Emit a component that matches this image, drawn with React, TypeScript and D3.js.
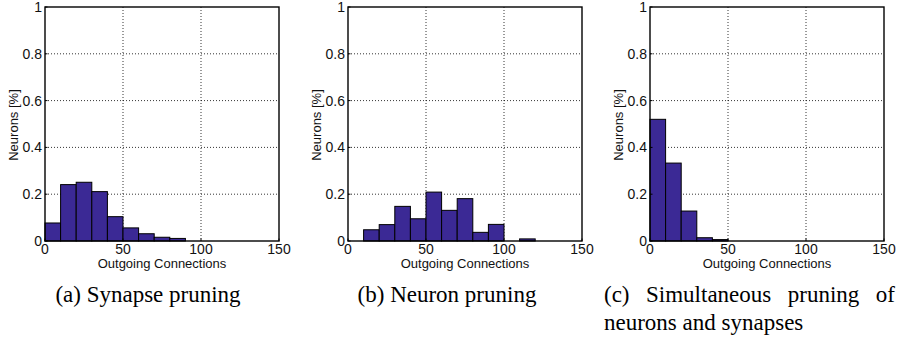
import React, { useEffect, useRef } from "react";
import * as d3 from "d3";

// histogram bins (left edges, width 10)
const binStarts = [0, 10, 20, 30, 40, 50, 60, 70, 80, 90, 100, 110, 120, 130, 140];
const binWidth = 10;

// fraction of neurons per bin
const synapseValues = [0.077, 0.241, 0.251, 0.211, 0.104, 0.056, 0.031, 0.016, 0.011, 0, 0, 0, 0, 0, 0];
const neuronValues = [0, 0.048, 0.07, 0.148, 0.095, 0.209, 0.131, 0.181, 0.037, 0.071, 0, 0.009, 0, 0, 0];
const simultaneousValues = [0.52, 0.333, 0.128, 0.014, 0.006, 0, 0, 0, 0, 0, 0, 0, 0, 0, 0];

const xTicks = [0, 50, 100, 150];
const yTicks = [0, 0.2, 0.4, 0.6, 0.8, 1];
const yTickLabels = ["0", "0.2", "0.4", "0.6", "0.8", "1"];

const xLabel = "Outgoing Connections";
const yLabel = "Neurons [%]";

const captionA = "(a) Synapse pruning";
const captionB = "(b) Neuron pruning";
const captionCLine1 = ["(c)", "Simultaneous", "pruning", "of"];
const captionCLine2 = "neurons and synapses";

function App() {
  const svgRef = useRef(null);

  useEffect(() => {
    drawChart();
  }, []);

  const drawChart = () => {
    const svg = d3.select(svgRef.current);
    svg.selectAll("*").remove();

    const sans = "Liberation Sans, Arial, Helvetica, sans-serif";
    const serif = "Liberation Serif, Times New Roman, Times, serif";
    const top = 7, bottom = 241, size = 234;
    const barColor = "#3b2995";

    const panels = [
      { left: 45, values: synapseValues },
      { left: 348, values: neuronValues },
      { left: 650, values: simultaneousValues }
    ];

    panels.forEach(p => {
      const x = d3.scaleLinear().domain([0, 150]).range([p.left, p.left + size]);
      const y = d3.scaleLinear().domain([0, 1]).range([bottom, top]);
      const g = svg.append("g");

      // white plot area
      g.append("rect")
        .attr("x", p.left).attr("y", top)
        .attr("width", size).attr("height", size)
        .attr("fill", "#fff");

      // dotted grid
      g.selectAll(".gx")
        .data(xTicks.slice(1, -1))
        .enter().append("line")
        .attr("x1", d => x(d)).attr("x2", d => x(d))
        .attr("y1", top).attr("y2", bottom)
        .attr("stroke", "#000").attr("stroke-width", 0.8)
        .attr("stroke-dasharray", "1,2");

      g.selectAll(".gy")
        .data(yTicks.slice(1, -1))
        .enter().append("line")
        .attr("x1", p.left).attr("x2", p.left + size)
        .attr("y1", d => y(d)).attr("y2", d => y(d))
        .attr("stroke", "#000").attr("stroke-width", 0.8)
        .attr("stroke-dasharray", "1,2");

      // bars
      g.selectAll(".bar")
        .data(binStarts.map((b, i) => ({ b, v: p.values[i] })))
        .enter().append("rect")
        .attr("x", d => x(d.b))
        .attr("width", d => x(d.b + binWidth) - x(d.b))
        .attr("y", d => y(d.v))
        .attr("height", d => y(0) - y(d.v))
        .attr("fill", barColor)
        .attr("stroke", "#000")
        .attr("stroke-width", 1);

      // inward ticks
      g.selectAll(".tx")
        .data(xTicks)
        .enter().append("line")
        .attr("x1", d => x(d)).attr("x2", d => x(d))
        .attr("y1", bottom).attr("y2", bottom - 2.5)
        .attr("stroke", "#000");
      g.selectAll(".ty")
        .data(yTicks)
        .enter().append("line")
        .attr("x1", p.left).attr("x2", p.left + 2.5)
        .attr("y1", d => y(d)).attr("y2", d => y(d))
        .attr("stroke", "#000");

      // frame
      g.append("rect")
        .attr("x", p.left).attr("y", top)
        .attr("width", size).attr("height", size)
        .attr("fill", "none")
        .attr("stroke", "#000")
        .attr("stroke-width", 1.4);

      // tick labels
      g.selectAll(".lx")
        .data(xTicks)
        .enter().append("text")
        .attr("x", d => x(d))
        .attr("y", bottom + 13)
        .attr("text-anchor", "middle")
        .style("font-family", sans)
        .style("font-size", "14px")
        .attr("fill", "#111")
        .text(d => d);

      g.selectAll(".ly")
        .data(yTicks)
        .enter().append("text")
        .attr("x", p.left - 3)
        .attr("y", d => y(d) + 5)
        .attr("text-anchor", "end")
        .style("font-family", sans)
        .style("font-size", "14px")
        .attr("fill", "#111")
        .text((d, i) => yTickLabels[i]);

      // axis labels
      g.append("text")
        .attr("x", p.left + size / 2)
        .attr("y", 267.5)
        .attr("text-anchor", "middle")
        .style("font-family", sans)
        .style("font-size", "13px")
        .attr("fill", "#111")
        .text(xLabel);

      g.append("text")
        .attr("transform", `translate(${p.left - 27},${y(0.5) + 1}) rotate(-90)`)
        .attr("text-anchor", "middle")
        .style("font-family", sans)
        .style("font-size", "13px")
        .attr("fill", "#111")
        .text(yLabel);
    });

    // captions
    const cap = (t, xPos, yPos, anchor) =>
      svg.append("text")
        .attr("x", xPos).attr("y", yPos)
        .attr("text-anchor", anchor)
        .style("font-family", serif)
        .style("font-size", "23px")
        .attr("fill", "#000")
        .text(t);

    cap(captionA, 148, 302, "middle");
    cap(captionB, 447, 302, "middle");

    // justified first line of (c)
    const lineLeft = 604, lineRight = 895;
    const words = captionCLine1.map(w => cap(w, 0, 302, "start"));
    const widths = words.map(w => (w.node() as SVGTextElement).getComputedTextLength());
    const gap = (lineRight - lineLeft - d3.sum(widths)) / (words.length - 1);
    let cx = lineLeft;
    words.forEach((w, i) => {
      w.attr("x", cx);
      cx += widths[i] + gap;
    });
    cap(captionCLine2, lineLeft, 330, "start");
  };

  return (
    <div style={{ margin: 0 }}>
      <svg ref={svgRef} width={901} height={341}
        style={{ position: "absolute", left: 0, top: 0, background: "#fff" }} />
    </div>
  );
}

export default App;
